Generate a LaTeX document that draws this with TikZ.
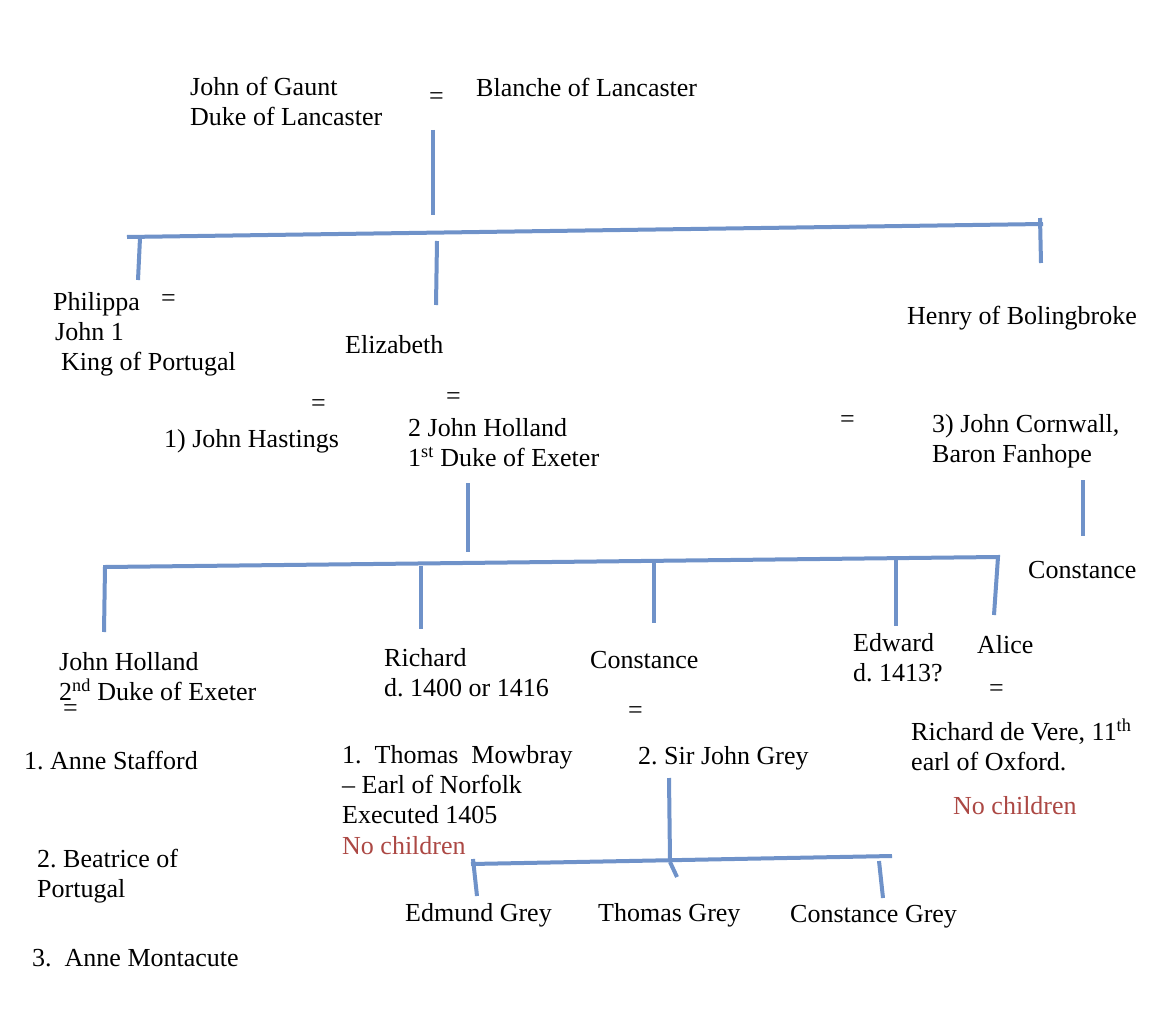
\documentclass[tikz,border=0pt]{standalone}
\usepackage{fontspec}
\setmainfont{Liberation Serif}
\definecolor{famblue}{RGB}{111,146,201}
\definecolor{nochildred}{RGB}{172,72,68}
\begin{document}
\begin{tikzpicture}[x=1pt,y=-1pt,
  lbl/.style={anchor=west,inner sep=0pt,align=left,font=\fontsize{26}{30}\selectfont\frenchspacing,
    execute at begin node=\strut,execute at end node=\strut},
  eqs/.style={anchor=west,inner sep=0pt,font=\fontsize{26}{30}\selectfont},
  nochild/.style={lbl,text=nochildred},
  famline/.style={draw=famblue,line width=4pt,line join=miter}]
\useasboundingbox[fill=white] (0,0) rectangle (1162,1022);

% ---------- text ----------
\node[lbl] (gaunt) at (190,106) {John of Gaunt\\Duke of Lancaster};
\node[eqs] (eqA) at (429,99) {=};
\node[lbl] (blanche) at (476,91) {Blanche of Lancaster};

\node[lbl] (philippa) at (53,304) {Philippa};
\node[eqs] (eqB) at (161,301) {=};
\node[lbl] (john1) at (55,351) {John 1\\\hspace*{6pt}King of Portugal};
\node[lbl] (elizabeth) at (345,347) {Elizabeth};
\node[lbl] (henry) at (907,318) {Henry of Bolingbroke};

\node[eqs] (eqC) at (311,406) {=};
\node[lbl] (hastings) at (164,441) {1) John Hastings};
\node[eqs] (eqD) at (446,399) {=};
\node[lbl] (holland1) at (408,447) {2 John Holland\\1\textsuperscript{st} Duke of Exeter};
\node[eqs] (eqE) at (840,422) {=};
\node[lbl] (cornwall) at (932,443) {3) John Cornwall,\\Baron Fanhope};
\node[lbl] (constanceC) at (1028,572) {Constance};

\node[lbl] (holland2) at (59,689) {John Holland\\2\textsuperscript{nd} Duke of Exeter\\[-14pt]\hspace*{4pt}=};
\node[lbl] (stafford) at (24,763) {1. Anne Stafford};
\node[lbl] (beatrice) at (37,878) {2. Beatrice of\\Portugal};
\node[lbl] (montacute) at (32,960) {3.\ \ Anne Montacute};

\node[lbl] (richard) at (384,677) {Richard\\d. 1400 or 1416};
\node[lbl] (mowbray) at (342,789) {1.\ \ Thomas\ \ Mowbray\\– Earl of Norfolk\\Executed 1405};
\node[nochild] (nochildA) at (342,848) {No children};

\node[lbl] (constanceB) at (590,662) {Constance};
\node[eqs] (eqG) at (628,713) {=};
\node[lbl] (sirjohn) at (638,758) {2. Sir John Grey};

\node[lbl] (edward) at (853,662) {Edward\\d. 1413?};
\node[lbl] (alice) at (977,647) {Alice};
\node[eqs] (eqH) at (989,691) {=};
\node[lbl] (vere) at (911,749) {Richard de Vere, 11\textsuperscript{th}\\earl of Oxford.};
\node[nochild] (nochildB) at (953,808) {No children};

\node[lbl] (edmund) at (405,915) {Edmund Grey};
\node[lbl] (thomas) at (598,915) {Thomas Grey};
\node[lbl] (constanceG) at (790,916) {Constance Grey};

% ---------- connector points ----------
\coordinate (gauntT) at (433,130);
\coordinate (gauntB) at (433,215);
\coordinate (barAL) at (127,237);
\coordinate (barAR) at (1043,224);
\coordinate (phT) at (140,238);   \coordinate (phB) at (138,280);
\coordinate (elT) at (437,241);   \coordinate (elB) at (436,305);
\coordinate (heT) at (1040,218);  \coordinate (heB) at (1041,263);

\coordinate (coT) at (1083,480);  \coordinate (coB) at (1083,536);

\coordinate (hoT) at (468,483);   \coordinate (hoB) at (468,552);
\coordinate (jhB) at (104,632);
\coordinate (barBL) at (105,567);
\coordinate (barBR) at (998,557);
\coordinate (alB) at (994,615);
\coordinate (riT) at (421,566);   \coordinate (riB) at (421,629);
\coordinate (cbT) at (654,559);   \coordinate (cbB) at (654,623);
\coordinate (edT) at (896,558);   \coordinate (edB) at (896,626);

\coordinate (grT) at (669,778);   \coordinate (grB) at (670,860);
\coordinate (barCL) at (471,864);
\coordinate (barCR) at (892,856);
\coordinate (emT) at (473,859);   \coordinate (emB) at (477,896);
\coordinate (thT) at (670,862);   \coordinate (thB) at (677,877);
\coordinate (cgT) at (879,861);   \coordinate (cgB) at (883,898);

% ---------- lines ----------
\draw[famline] (gauntT) -- (gauntB);
\draw[famline] (barAL) -- (barAR);
\draw[famline] (phT) -- (phB);
\draw[famline] (elT) -- (elB);
\draw[famline] (heT) -- (heB);
\draw[famline] (coT) -- (coB);
\draw[famline] (hoT) -- (hoB);
\draw[famline] (jhB) -- (barBL) -- (barBR) -- (alB);
\draw[famline] (riT) -- (riB);
\draw[famline] (cbT) -- (cbB);
\draw[famline] (edT) -- (edB);
\draw[famline] (grT) -- (grB);
\draw[famline] (barCL) -- (barCR);
\draw[famline] (emT) -- (emB);
\draw[famline] (thT) -- (thB);
\draw[famline] (cgT) -- (cgB);
\end{tikzpicture}
\end{document}
